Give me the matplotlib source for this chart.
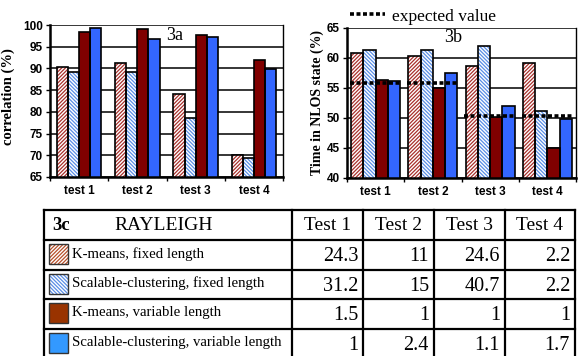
import numpy as np
import matplotlib.pyplot as plt
from matplotlib.patches import Rectangle

# data
tests = ['test 1', 'test 2', 'test 3', 'test 4']
series = ['K-means, fixed length', 'Scalable-clustering, fixed length',
          'K-means, variable length', 'Scalable-clustering, variable length']

corr_km_fixed = [90.4, 91.3, 84.1, 70.0]
corr_sc_fixed = [89.2, 89.2, 78.7, 69.4]
corr_km_var = [98.5, 99.0, 97.7, 91.9]
corr_sc_var = [99.4, 96.7, 97.3, 89.9]

nlos_km_fixed = [60.9, 60.4, 58.7, 59.2]
nlos_sc_fixed = [61.4, 61.4, 62.0, 51.1]
nlos_km_var = [56.4, 55.0, 50.1, 45.0]
nlos_sc_var = [56.1, 57.5, 52.0, 49.9]
nlos_expected = [55.9, 55.9, 50.4, 50.4]

table_title = 'RAYLEIGH'
table_cols = ['Test 1', 'Test 2', 'Test 3', 'Test 4']
table_vals = [['24.3', '11', '24.6', '2.2'],
              ['31.2', '15', '40.7', '2.2'],
              ['1.5', '1', '1', '1'],
              ['1', '2.4', '1.1', '1.7']]

# styles
serif = 'Liberation Serif'
sans = 'Liberation Sans'
styles = [dict(face='white', hatch_col='#a8302c', hatch='/' * 9),
          dict(face='white', hatch_col='#5a8ee6', hatch='\\' * 9),
          dict(face='#800000', hatch_col=None, hatch=None),
          dict(face='#3366ff', hatch_col=None, hatch=None)]
swatch_faces = ['white', 'white', '#993300', '#3399ff']
swatch_hatch_cols = ['#b8502a', '#5a8ee6', None, None]

plt.rcParams['hatch.linewidth'] = 0.9

fig = plt.figure(figsize=(5.81, 3.56), dpi=100)
W, H = 581, 356


def draw_bars(ax, data, width):
    x = np.arange(len(tests))
    for k, (vals, st) in enumerate(zip(data, styles)):
        pos = x + (k - 1.5) * width
        if st['hatch']:
            ax.bar(pos, vals, width, color=st['face'], edgecolor=st['hatch_col'],
                   hatch=st['hatch'], linewidth=0, zorder=2)
        else:
            ax.bar(pos, vals, width, color=st['face'], linewidth=0, zorder=2)
        ax.bar(pos, vals, width, fill=False, edgecolor='black', linewidth=1.2, zorder=3)


def style_axes(ax, ylo, yhi):
    ax.set_xlim(-0.5, len(tests) - 0.5)
    ax.set_ylim(ylo, yhi)
    ax.set_yticks(np.arange(ylo, yhi + 1, 5))
    ax.yaxis.grid(True, color='black', linewidth=1.1, zorder=1)
    ax.set_axisbelow(True)
    ax.set_xticks(np.arange(len(tests) + 1) - 0.5)
    ax.set_xticklabels([])
    ax.set_xticks(np.arange(len(tests)), minor=True)
    ax.set_xticklabels(tests, minor=True, fontfamily=sans, fontweight='bold', fontsize=8.5)
    ax.tick_params(axis='x', which='minor', length=0, pad=6)
    ax.tick_params(axis='x', which='major', length=3, width=1)
    ax.tick_params(axis='y', length=3, width=1, pad=2)
    for lab in ax.get_yticklabels():
        lab.set_fontfamily(sans)
        lab.set_fontweight('bold')
        lab.set_fontsize(8.5)
    ax.spines['left'].set_linewidth(1.8)
    ax.spines['bottom'].set_linewidth(1.8)
    ax.spines['top'].set_visible(False)
    ax.spines['right'].set_linewidth(1.0)


# 3a
ax1 = fig.add_axes([50 / W, 1 - 177 / H, 233 / W, 152 / H])
draw_bars(ax1, [corr_km_fixed, corr_sc_fixed, corr_km_var, corr_sc_var], 0.19)
style_axes(ax1, 65, 100)
ax1.set_ylabel('correlation (%)', fontfamily=serif, fontweight='bold', fontsize=10.5)
ax1.yaxis.set_label_coords(-0.15, 0.53)
ax1.text(0.536, 0.934, '3a', transform=ax1.transAxes, fontfamily=serif,
         fontsize=13, ha='center', va='center')

# 3b
ax2 = fig.add_axes([347 / W, 1 - 178 / H, 229 / W, 150 / H])
draw_bars(ax2, [nlos_km_fixed, nlos_sc_fixed, nlos_km_var, nlos_sc_var], 0.215)
style_axes(ax2, 40, 65)
xg = np.arange(len(tests))
ax2.hlines(nlos_expected, xg - 0.45, xg + 0.45, colors='black', linewidth=2.6,
           linestyles=(0, (1.1, 0.7)), zorder=4, label='expected value')
ax2.set_ylabel('Time in NLOS state (%)', fontfamily=serif, fontweight='bold', fontsize=10)
ax2.yaxis.set_label_coords(-0.1, 0.503)
ax2.text(0.463, 0.94, '3b', transform=ax2.transAxes, fontfamily=serif,
         fontsize=13, ha='center', va='center')
ax2.legend(loc='lower left', bbox_to_anchor=(0, 1.0), borderaxespad=0.1, borderpad=0.1,
           frameon=False, handlelength=2.0, handletextpad=0.4,
           prop={'family': serif, 'size': 12.5})

# 3c table
axt = fig.add_axes([44 / W, 1 - 360 / H, 531 / W, 150 / H])
axt.set_xlim(0, 531)
axt.set_ylim(150, 0)
axt.axis('off')
col_x = [0, 248, 319, 390, 461, 531]
row_y = [0, 30, 59.5, 89, 118.5, 148]
for y in row_y:
    axt.plot([0, 531], [y, y], color='black', linewidth=1.6, clip_on=False)
for x in col_x:
    axt.plot([x, x], [0, 150], color='black', linewidth=1.6, clip_on=False)

axt.text(8, 15, '3c', fontfamily=serif, fontweight='bold', fontsize=13.5, ha='left', va='center')
axt.text(70, 15, table_title, fontfamily=serif, fontsize=14, ha='left', va='center')
for j, c in enumerate(table_cols):
    axt.text((col_x[j + 1] + col_x[j + 2]) / 2, 15, c, fontfamily=serif, fontsize=14,
             ha='center', va='center')

for i, (name, vals) in enumerate(zip(series, table_vals)):
    top = row_y[i + 1]
    yc = (row_y[i + 1] + row_y[i + 2]) / 2
    if swatch_hatch_cols[i]:
        axt.add_patch(Rectangle((5, top + 4), 19, 20, facecolor='white',
                                edgecolor=swatch_hatch_cols[i], hatch=styles[i]['hatch'],
                                linewidth=0))
    else:
        axt.add_patch(Rectangle((5, top + 4), 19, 20, facecolor=swatch_faces[i], linewidth=0))
    axt.add_patch(Rectangle((5, top + 4), 19, 20, fill=False, edgecolor='#333333', linewidth=1))
    axt.text(28, yc - 1, name, fontfamily=serif, fontsize=10.6, ha='left', va='center')
    for j, v in enumerate(vals):
        axt.text(col_x[j + 2] - 5, yc + 2, v, fontfamily=serif, fontsize=14.5,
                 ha='right', va='center')

fig.savefig('out.png', dpi=100)
